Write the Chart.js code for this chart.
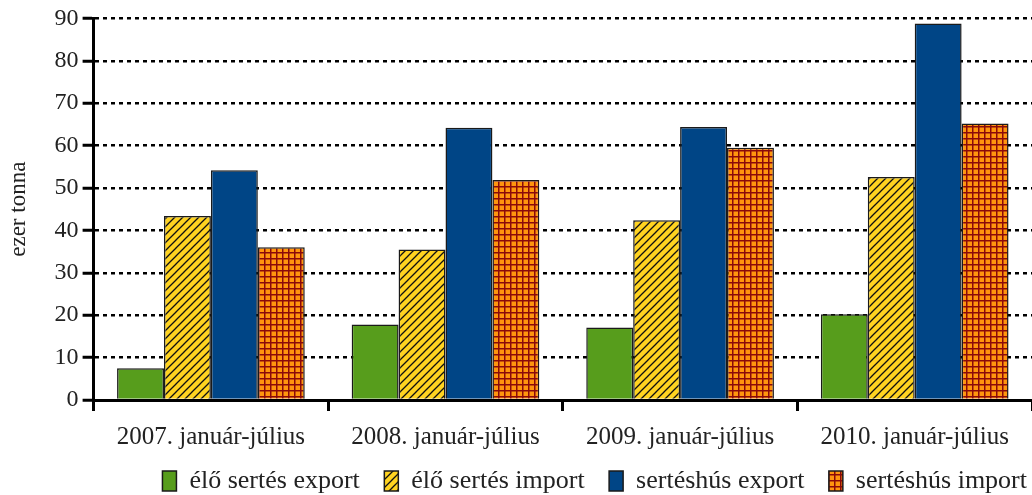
<!DOCTYPE html>
<html lang="hu">
<head>
    <meta charset="UTF-8">
    <title>Sertés export és import</title>
    <style>
        html, body {
            margin: 0;
            padding: 0;
            background: #fff;
        }
        .chart-container {
            width: 1032px;
            height: 495px;
        }
    </style>
</head>
<body>
    <div class="chart-container">
        <canvas id="porkChart"></canvas>
    </div>

    <script src="https://cdn.jsdelivr.net/npm/chart.js"></script>
    <script>
        // Data (ezer tonna)
        const categories = ['2007. január-július', '2008. január-július', '2009. január-július', '2010. január-július'];
        const eloSertesExport = [7.5, 17.8, 17.1, 20.2];
        const eloSertesImport = [43.4, 35.5, 42.4, 52.6];
        const serteshusExport = [54.2, 64.2, 64.4, 88.8];
        const serteshusImport = [36.0, 51.9, 59.5, 65.2];
        const yTicks = [0, 10, 20, 30, 40, 50, 60, 70, 80, 90];

        const FONT = "'Liberation Serif', 'Times New Roman', serif";

        // Hatch pattern: yellow with black diagonal lines
        function hatchPattern() {
            const c = document.createElement('canvas');
            c.width = 8;
            c.height = 8;
            const g = c.getContext('2d');
            g.fillStyle = '#ffd320';
            g.fillRect(0, 0, 8, 8);
            g.strokeStyle = '#111';
            g.lineWidth = 1.3;
            g.beginPath();
            g.moveTo(-2, 10); g.lineTo(10, -2);
            g.moveTo(-2, 2); g.lineTo(2, -2);
            g.moveTo(6, 10); g.lineTo(10, 6);
            g.stroke();
            return g.createPattern(c, 'repeat');
        }

        // Grid pattern: orange with dark red squares
        function gridPattern() {
            const c = document.createElement('canvas');
            c.width = 6;
            c.height = 6;
            const g = c.getContext('2d');
            g.fillStyle = '#ff950e';
            g.fillRect(0, 0, 6, 6);
            g.fillStyle = '#8b0a0a';
            g.fillRect(0, 0, 6, 1.5);
            g.fillRect(0, 0, 1.5, 6);
            return g.createPattern(c, 'repeat');
        }

        const ctx = document.getElementById('porkChart').getContext('2d');
        new Chart(ctx, {
            type: 'bar',
            data: {
                labels: categories,
                datasets: [
                    { label: 'élő sertés export', data: eloSertesExport, backgroundColor: '#579d1c' },
                    { label: 'élő sertés import', data: eloSertesImport, backgroundColor: hatchPattern() },
                    { label: 'sertéshús export', data: serteshusExport, backgroundColor: '#004586' },
                    { label: 'sertéshús import', data: serteshusImport, backgroundColor: gridPattern() }
                ].map(ds => Object.assign(ds, {
                    borderColor: '#1a1a1a',
                    borderWidth: 1.5,
                    categoryPercentage: 0.8,
                    barPercentage: 1.0
                }))
            },
            options: {
                responsive: true,
                maintainAspectRatio: false,
                animation: false,
                layout: { padding: { top: 18, right: 0, left: 5, bottom: -9 } },
                plugins: {
                    tooltip: { enabled: false },
                    legend: {
                        position: 'bottom',
                        align: 'end',
                        labels: {
                            font: { family: FONT, size: 26 },
                            color: '#222',
                            boxWidth: 14,
                            boxHeight: 20,
                            padding: 5,
                            // a little extra room between legend entries
                            generateLabels: chart => {
                                const items = Chart.defaults.plugins.legend.labels.generateLabels(chart);
                                items.forEach((it, i) => {
                                    if (i < items.length - 1) it.text += '   ';
                                });
                                return items;
                            }
                        }
                    }
                },
                scales: {
                    x: {
                        grid: {
                            drawOnChartArea: false,
                            drawTicks: true,
                            tickLength: 11,
                            color: '#000',
                            lineWidth: 3
                        },
                        border: { display: true, color: '#000', width: 3 },
                        ticks: {
                            font: { family: FONT, size: 25 },
                            color: '#222',
                            padding: 11
                        }
                    },
                    y: {
                        min: 0,
                        max: 90,
                        afterBuildTicks: axis => {
                            axis.ticks = yTicks.map(v => ({ value: v }));
                        },
                        grid: {
                            color: '#000',
                            lineWidth: 2.5,
                            tickLength: 11,
                            tickColor: '#000',
                            tickWidth: 3
                        },
                        border: { display: true, color: '#000', width: 3, dash: [4, 4] },
                        ticks: {
                            font: { family: FONT, size: 24 },
                            color: '#222',
                            padding: 4
                        },
                        title: {
                            display: true,
                            text: 'ezer tonna',
                            font: { family: FONT, size: 23 },
                            color: '#222',
                            padding: { top: 0, bottom: 18 }
                        }
                    }
                }
            }
        });
    </script>
</body>
</html>
